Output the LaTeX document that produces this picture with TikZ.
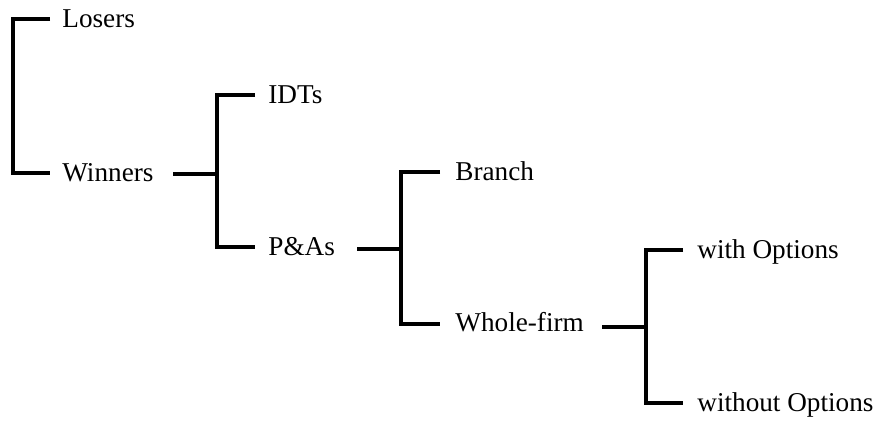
\documentclass[tikz,border=0pt]{standalone}
\usepackage{fontspec}
\setmainfont{Liberation Serif}
\begin{document}
\begin{tikzpicture}[x=0.5pt,y=-0.5pt,
  lbl/.style={anchor=base west,inner sep=0pt,font=\fontsize{13.6}{16}\selectfont},
  br/.style={line width=2.2pt,line join=miter,line cap=butt}]
\useasboundingbox (0,0) rectangle (878,421);
% labels
\node[lbl] (losers) at (62,28) {Losers};
\node[lbl] (winners) at (62,182) {Winners};
\node[lbl] (idts) at (268,104) {IDTs};
\node[lbl] (pas) at (268,256) {P\&As};
\node[lbl] (branch) at (455,181) {Branch};
\node[lbl] (whole) at (455,332) {Whole-firm};
\node[lbl] (withopt) at (697,259) {with Options};
\node[lbl] (without) at (697,412) {without Options};
% bracket 1
\coordinate (a1) at (50,19);
\coordinate (b1t) at (13,19);
\coordinate (b1b) at (13,173);
\coordinate (a2) at (50,173);
\draw[br] (a1) -- (b1t) -- (b1b) -- (a2);
% bracket 2
\coordinate (s2) at (173,174);
\coordinate (m2) at (217,174);
\coordinate (c1) at (255,95);
\coordinate (b2t) at (217,95);
\coordinate (b2b) at (217,247);
\coordinate (c2) at (255,247);
\draw[br] (s2) -- (m2);
\draw[br] (c1) -- (b2t) -- (b2b) -- (c2);
% bracket 3
\coordinate (s3) at (357,249);
\coordinate (m3) at (401,249);
\coordinate (d1) at (440,172);
\coordinate (b3t) at (401,172);
\coordinate (b3b) at (401,324);
\coordinate (d2) at (440,324);
\draw[br] (s3) -- (m3);
\draw[br] (d1) -- (b3t) -- (b3b) -- (d2);
% bracket 4
\coordinate (s4) at (602,327);
\coordinate (m4) at (646,327);
\coordinate (e1) at (683,250);
\coordinate (b4t) at (646,250);
\coordinate (b4b) at (646,403);
\coordinate (e2) at (683,403);
\draw[br] (s4) -- (m4);
\draw[br] (e1) -- (b4t) -- (b4b) -- (e2);
\end{tikzpicture}
\end{document}
